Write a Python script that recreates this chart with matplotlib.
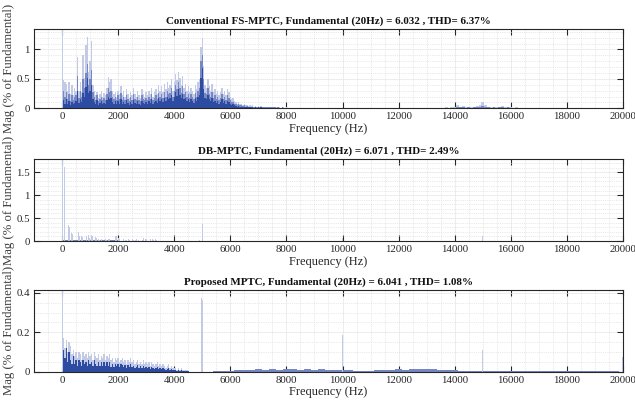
import numpy as np
import matplotlib.pyplot as plt
from matplotlib.ticker import FormatStrFormatter, MultipleLocator

plt.rcParams["font.family"] = ["Liberation Serif", "DejaVu Serif"]
plt.rcParams["font.size"] = 8

LIGHT = "#c2cae6"
MID = "#7587c4"
DARK = "#2d4ca1"
AXIS_COLOR = "#262626"

FUND_HZ = 20
FUND_PCT = 100.0

# ---- Conventional FS-MPTC: 50 Hz bins from 50 Hz to 8000 Hz ----
fs_light = [
    0.48, 0.45, 0.42, 0.30, 0.44, 0.25, 0.40, 0.22, 0.35, 0.30,
    0.88, 0.30, 0.45, 0.28, 0.90, 0.52, 1.07, 1.21, 0.62, 0.80,
    1.15, 0.40, 0.30, 0.22, 0.28, 0.18, 0.25, 0.30, 0.20, 0.26,
    0.22, 0.35, 0.54, 0.45, 0.50, 0.30, 0.25, 0.28, 0.20, 0.30,
    0.25, 0.38, 0.22, 0.30, 0.20, 0.32, 0.24, 0.18, 0.28, 0.22,
    0.35, 0.25, 0.20, 0.30, 0.22, 0.18, 0.32, 0.25, 0.20, 0.28,
    0.22, 0.30, 0.25, 0.35, 0.20, 0.28, 0.32, 0.24, 0.40, 0.30,
    0.38, 0.28, 0.42, 0.32, 0.45, 0.35, 0.40, 0.50, 0.30, 0.45,
    0.58, 0.48, 0.62, 0.52, 0.40, 0.55, 0.35, 0.42, 0.30, 0.38,
    0.28, 0.35, 0.30, 0.25, 0.40, 0.32, 0.45, 0.50, 1.05, 1.20,
    0.72, 0.40, 0.35, 0.50, 0.38, 0.30, 0.42, 0.28, 0.33, 0.25,
    0.30, 0.22, 0.28, 0.35, 0.25, 0.30, 0.22, 0.33, 0.28, 0.20,
    0.15, 0.17, 0.12, 0.10, 0.08, 0.10, 0.07, 0.08, 0.06, 0.07,
    0.05, 0.06, 0.04, 0.05, 0.04, 0.05, 0.03, 0.04, 0.03, 0.04,
    0.03, 0.04, 0.02, 0.03, 0.03, 0.02, 0.03, 0.02, 0.03, 0.02,
    0.02, 0.03, 0.02, 0.02, 0.02, 0.01, 0.02, 0.02, 0.01, 0.02,
]
fs_mid = [
    0.30, 0.20, 0.28, 0.15, 0.25, 0.12, 0.22, 0.14, 0.20, 0.22,
    0.55, 0.18, 0.30, 0.20, 0.50, 0.35, 0.60, 0.75, 0.40, 0.50,
    0.65, 0.28, 0.20, 0.14, 0.22, 0.12, 0.16, 0.20, 0.14, 0.18,
    0.14, 0.24, 0.35, 0.28, 0.30, 0.20, 0.16, 0.20, 0.14, 0.22,
    0.16, 0.26, 0.14, 0.20, 0.14, 0.22, 0.16, 0.12, 0.20, 0.14,
    0.24, 0.16, 0.14, 0.20, 0.14, 0.12, 0.22, 0.16, 0.14, 0.18,
    0.14, 0.20, 0.16, 0.24, 0.14, 0.18, 0.22, 0.16, 0.26, 0.20,
    0.24, 0.18, 0.28, 0.20, 0.30, 0.24, 0.26, 0.34, 0.20, 0.30,
    0.40, 0.32, 0.45, 0.35, 0.26, 0.38, 0.24, 0.28, 0.20, 0.24,
    0.18, 0.24, 0.20, 0.16, 0.26, 0.20, 0.30, 0.34, 0.80, 0.90,
    0.50, 0.26, 0.24, 0.34, 0.24, 0.20, 0.28, 0.18, 0.22, 0.16,
    0.20, 0.14, 0.18, 0.24, 0.16, 0.20, 0.14, 0.22, 0.18, 0.14,
    0.10, 0.11, 0.08, 0.07, 0.05, 0.07, 0.05, 0.05, 0.04, 0.05,
    0.03, 0.04, 0.03, 0.03, 0.03, 0.03, 0.02, 0.03, 0.02, 0.03,
    0.02, 0.03, 0.015, 0.02, 0.02, 0.015, 0.02, 0.015, 0.02, 0.015,
    0.015, 0.02, 0.01, 0.015, 0.01, 0.01, 0.015, 0.01, 0.01, 0.01,
]
fs_dark = [
    0.14, 0.08, 0.16, 0.07, 0.12, 0.06, 0.11, 0.07, 0.09, 0.13,
    0.30, 0.09, 0.16, 0.11, 0.26, 0.20, 0.36, 0.52, 0.26, 0.30,
    0.40, 0.16, 0.11, 0.07, 0.14, 0.06, 0.09, 0.12, 0.07, 0.09,
    0.07, 0.14, 0.20, 0.16, 0.18, 0.10, 0.08, 0.12, 0.07, 0.12,
    0.08, 0.16, 0.07, 0.11, 0.07, 0.14, 0.09, 0.06, 0.11, 0.07,
    0.14, 0.09, 0.07, 0.12, 0.07, 0.05, 0.13, 0.09, 0.07, 0.11,
    0.07, 0.12, 0.09, 0.15, 0.07, 0.11, 0.13, 0.09, 0.17, 0.12,
    0.15, 0.11, 0.17, 0.12, 0.19, 0.15, 0.17, 0.22, 0.12, 0.19,
    0.27, 0.21, 0.32, 0.23, 0.17, 0.25, 0.15, 0.17, 0.12, 0.15,
    0.11, 0.15, 0.12, 0.09, 0.17, 0.13, 0.19, 0.22, 0.52, 0.68,
    0.32, 0.17, 0.15, 0.22, 0.15, 0.12, 0.17, 0.11, 0.13, 0.09,
    0.12, 0.07, 0.11, 0.15, 0.09, 0.12, 0.07, 0.13, 0.11, 0.08,
    0.06, 0.07, 0.05, 0.04, 0.03, 0.04, 0.025, 0.03, 0.02, 0.025,
    0.015, 0.02, 0.015, 0.015, 0.015, 0.015, 0.01, 0.015, 0.01, 0.015,
    0.01, 0.015, 0.005, 0.01, 0.01, 0.005, 0.01, 0.005, 0.01, 0.005,
    0.005, 0.01, 0.005, 0.005, 0.005, 0.005, 0.005, 0.005, 0.005, 0.005,
]
# 100 Hz bins from 13500 Hz to 16500 Hz
fs_hf_light = [
    0.01, 0.01, 0.02, 0.01, 0.02, 0.02,
    0.05, 0.03, 0.04, 0.02, 0.03, 0.02, 0.03, 0.04, 0.05, 0.10,
    0.06, 0.03, 0.02, 0.03, 0.02, 0.03, 0.04, 0.02, 0.03, 0.02,
    0.01, 0.02, 0.01, 0.01, 0.01,
]
fs_hf_dark = [
    0.005, 0.005, 0.01, 0.005, 0.01, 0.01,
    0.02, 0.015, 0.02, 0.01, 0.015, 0.01, 0.015, 0.02, 0.02, 0.04,
    0.03, 0.015, 0.01, 0.015, 0.01, 0.015, 0.02, 0.01, 0.015, 0.01,
    0.005, 0.01, 0.005, 0.005, 0.005,
]

# ---- DB-MPTC: individual harmonics ----
db_freq = [
    100, 140, 220, 260, 340, 380, 460, 500, 580, 620,
    700, 740, 820, 860, 940, 980, 1060, 1100, 1180, 1220,
    1300, 1340, 1420, 1460, 1540, 1580, 1660, 1700, 1780, 1820,
    1900, 1940, 2020, 2060, 2140, 2180, 2260, 2300, 2380, 2420,
    2500, 2540, 2620, 2660, 2740, 2780, 2860, 2900, 2980, 3020,
    3100, 3140, 3220, 3260, 3340, 3380,
    4900, 5000, 5100, 10000, 15000,
]
db_mag = [
    1.62, 1.57, 0.35, 0.30, 0.18, 0.16, 0.08, 0.10, 0.20, 0.12,
    0.10, 0.08, 0.06, 0.10, 0.13, 0.06, 0.13, 0.12, 0.08, 0.06,
    0.04, 0.03, 0.05, 0.03, 0.04, 0.03, 0.05, 0.04, 0.07, 0.06,
    0.10, 0.12, 0.07, 0.05, 0.03, 0.04, 0.02, 0.03, 0.05, 0.03,
    0.04, 0.02, 0.03, 0.04, 0.02, 0.05, 0.03, 0.06, 0.04, 0.05,
    0.06, 0.04, 0.05, 0.03, 0.04, 0.02,
    0.03, 0.37, 0.03, 0.07, 0.12,
]
# 1000 Hz bins floor, 500 Hz to 19500 Hz
db_floor = [
    0.012, 0.012, 0.010, 0.010, 0.008, 0.010, 0.008, 0.008, 0.008, 0.008,
    0.008, 0.008, 0.008, 0.008, 0.008, 0.008, 0.008, 0.008, 0.008, 0.008,
]

# ---- Proposed MPTC: 50 Hz bins from 50 Hz to 4500 Hz ----
pr_light = [
    0.17, 0.12, 0.16, 0.10, 0.15, 0.13, 0.09, 0.11, 0.08, 0.10,
    0.07, 0.10, 0.09, 0.06, 0.10, 0.08, 0.09, 0.07, 0.10, 0.08,
    0.09, 0.06, 0.10, 0.08, 0.07, 0.09, 0.06, 0.08, 0.07, 0.09,
    0.06, 0.08, 0.07, 0.09, 0.06, 0.07, 0.05, 0.07, 0.06, 0.07,
    0.05, 0.06, 0.07, 0.05, 0.06, 0.04, 0.06, 0.05, 0.07, 0.05,
    0.06, 0.04, 0.05, 0.06, 0.04, 0.05, 0.04, 0.06, 0.04, 0.05,
    0.04, 0.05, 0.03, 0.05, 0.04, 0.03, 0.04, 0.05, 0.03, 0.04,
    0.03, 0.04, 0.03, 0.02, 0.03, 0.04, 0.02, 0.03, 0.02, 0.02,
    0.02, 0.01, 0.02, 0.01, 0.02, 0.01, 0.01, 0.01, 0.01, 0.005,
]
pr_dark = [
    0.11, 0.07, 0.12, 0.05, 0.10, 0.06, 0.04, 0.08, 0.04, 0.06,
    0.03, 0.06, 0.05, 0.03, 0.06, 0.04, 0.05, 0.03, 0.06, 0.04,
    0.05, 0.03, 0.06, 0.04, 0.03, 0.05, 0.03, 0.05, 0.03, 0.05,
    0.03, 0.05, 0.03, 0.05, 0.025, 0.04, 0.025, 0.04, 0.03, 0.04,
    0.025, 0.04, 0.035, 0.025, 0.035, 0.02, 0.035, 0.025, 0.04, 0.025,
    0.03, 0.02, 0.025, 0.035, 0.02, 0.03, 0.02, 0.03, 0.02, 0.025,
    0.02, 0.025, 0.015, 0.025, 0.02, 0.015, 0.02, 0.025, 0.015, 0.02,
    0.015, 0.02, 0.015, 0.01, 0.015, 0.02, 0.01, 0.015, 0.01, 0.01,
    0.01, 0.005, 0.01, 0.005, 0.01, 0.005, 0.005, 0.005, 0.005, 0.003,
]
pr_spike_freq = [4980, 5020, 10000, 15000, 20000]
pr_spike_mag = [0.375, 0.365, 0.185, 0.11, 0.075]
# 250 Hz bins from 5500 Hz to 19750 Hz
pr_floor = [
    0.004, 0.006, 0.005, 0.008, 0.010, 0.008, 0.012, 0.010, 0.013, 0.011,
    0.012, 0.014, 0.011, 0.013, 0.010, 0.012, 0.009, 0.010, 0.008, 0.007,
    0.004, 0.005, 0.006, 0.008, 0.010, 0.009, 0.012, 0.011, 0.013, 0.012,
    0.014, 0.012, 0.011, 0.010, 0.008, 0.006, 0.004, 0.003, 0.003, 0.004,
    0.003, 0.003, 0.004, 0.003, 0.003, 0.004, 0.003, 0.003, 0.003, 0.002,
    0.002, 0.002, 0.002, 0.002, 0.002, 0.002, 0.002, 0.002,
]

titles = [
    "Conventional FS-MPTC, Fundamental (20Hz) = 6.032 , THD= 6.37%",
    "DB-MPTC, Fundamental (20Hz) = 6.071 , THD= 2.49%",
    "Proposed MPTC, Fundamental (20Hz) = 6.041 , THD= 1.08%",
]
y_tops = [1.34, 1.78, 0.415]
y_majors = [0.5, 0.5, 0.2]
y_minors = [0.1, 0.1, 0.05]


def style_axes(ax, title, y_top, y_major, y_minor):
    ax.set_xlim(-1000, 20000)
    ax.set_ylim(0, y_top)
    ax.xaxis.set_major_locator(MultipleLocator(2000))
    ax.xaxis.set_minor_locator(MultipleLocator(500))
    ax.yaxis.set_major_locator(MultipleLocator(y_major))
    ax.yaxis.set_minor_locator(MultipleLocator(y_minor))
    ax.yaxis.set_major_formatter(FormatStrFormatter("%g"))
    ax.grid(which="major", color="#e6e6e6", linewidth=0.5)
    ax.grid(which="minor", color="#d4d4d4", linewidth=0.5, linestyle=":")
    ax.set_axisbelow(True)
    ax.tick_params(which="major", direction="in", length=4, width=0.8,
                   top=True, right=True, colors=AXIS_COLOR, labelsize=7.8,
                   pad=3)
    ax.tick_params(which="minor", length=0)
    for spine in ax.spines.values():
        spine.set_color(AXIS_COLOR)
        spine.set_linewidth(0.8)
    ax.set_title(title, fontweight="bold", fontsize=7.9, pad=4, color="#111111")
    ax.set_xlabel("Frequency (Hz)", fontsize=9, labelpad=1, color=AXIS_COLOR)
    ax.set_ylabel("Mag (% of Fundamental)", fontsize=9.2, color="#404040")
    ax.yaxis.set_label_coords(-0.032, 0.5)


fig = plt.figure(figsize=(6.35, 4.05), dpi=100)
ax1 = fig.add_axes([0.0535, 0.7326, 0.9276, 0.1946])
ax2 = fig.add_axes([0.0535, 0.4049, 0.9276, 0.2018])
ax3 = fig.add_axes([0.0535, 0.0822, 0.9276, 0.2017])

# Conventional FS-MPTC
f_low = np.arange(1, len(fs_light) + 1) * 50
f_hf = 13500 + np.arange(len(fs_hf_light)) * 100
ax1.bar([FUND_HZ], [FUND_PCT], width=40, color=LIGHT, linewidth=0)
ax1.bar(f_low, fs_light, width=50, color=LIGHT, linewidth=0)
ax1.bar(f_low, fs_mid, width=50, color=MID, linewidth=0)
ax1.bar(f_low, fs_dark, width=50, color=DARK, linewidth=0)
ax1.bar(f_hf, fs_hf_light, width=100, color=LIGHT, linewidth=0)
ax1.bar(f_hf, fs_hf_dark, width=100, color=MID, linewidth=0)

# DB-MPTC
f_db_floor = 500 + np.arange(len(db_floor)) * 1000
ax2.bar(f_db_floor, db_floor, width=1000, color=MID, linewidth=0)
ax2.bar([FUND_HZ], [FUND_PCT], width=40, color=LIGHT, linewidth=0)
ax2.bar(db_freq, db_mag, width=30, color=LIGHT, linewidth=0)

# Proposed MPTC
f_pr = np.arange(1, len(pr_light) + 1) * 50
f_pr_floor = 5500 + np.arange(len(pr_floor)) * 250
ax3.bar([FUND_HZ], [FUND_PCT], width=40, color=LIGHT, linewidth=0)
ax3.bar(f_pr, pr_light, width=50, color=LIGHT, linewidth=0)
ax3.bar(f_pr, pr_dark, width=50, color=DARK, linewidth=0)
ax3.bar(f_pr_floor, pr_floor, width=250, color=MID, linewidth=0)
ax3.bar(pr_spike_freq, pr_spike_mag, width=40, color=LIGHT, linewidth=0)

for ax, title, top, major, minor in zip([ax1, ax2, ax3], titles, y_tops, y_majors, y_minors):
    style_axes(ax, title, top, major, minor)

fig.savefig("out.png", dpi=100)
